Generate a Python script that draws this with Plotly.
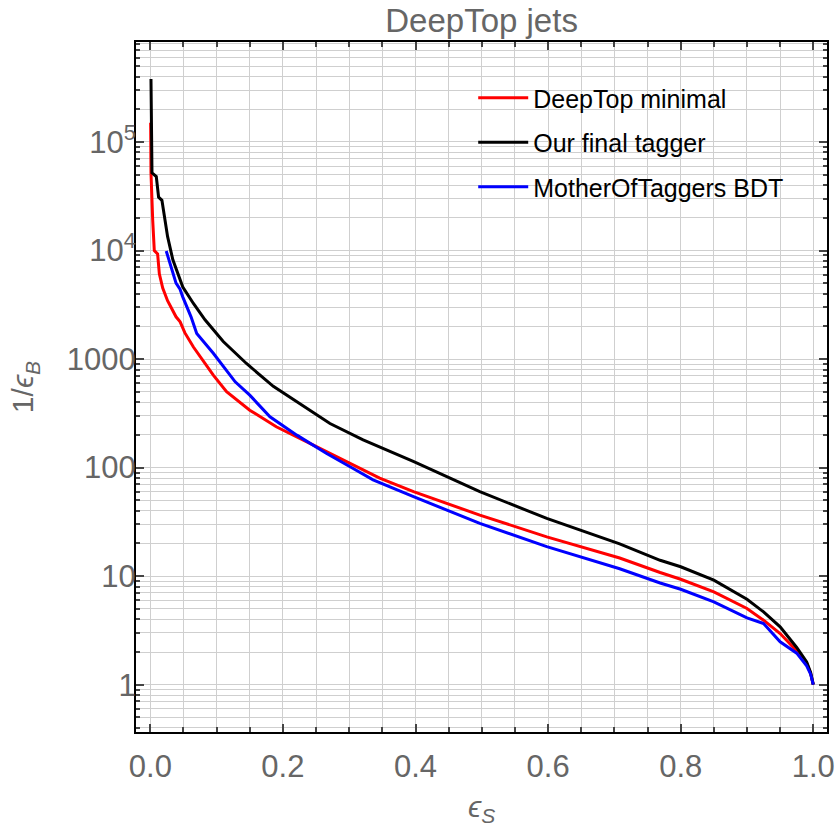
import plotly.graph_objects as go

# --- data ---
red_name = "DeepTop minimal"
red_x = [0.0005, 0.001, 0.0036, 0.006, 0.011, 0.0136, 0.0187, 0.026, 0.0388, 0.045, 0.052, 0.065,
         0.095, 0.115, 0.15, 0.19, 0.246, 0.271, 0.346, 0.397, 0.497, 0.598, 0.708,
         0.769, 0.8, 0.85, 0.9, 0.925, 0.95, 0.975, 0.99, 0.996, 1.0]
red_y = [150000, 52000, 19000, 10000, 9300, 6100, 4500, 3450, 2450, 2200, 1750, 1290,
         710, 500, 338, 238, 161, 135, 80, 60, 36.5, 23, 14.7,
         10.8, 9.36, 7.16, 5.03, 3.93, 2.96, 2.05, 1.58, 1.27, 1.0]

black_name = "Our final tagger"
black_x = [0.001, 0.0025, 0.009, 0.0125, 0.0175, 0.026, 0.034, 0.049, 0.065, 0.0825, 0.11, 0.145,
           0.1855, 0.22, 0.271, 0.321, 0.3465, 0.3966, 0.497, 0.598, 0.708,
           0.769, 0.8, 0.85, 0.9, 0.925, 0.95, 0.975, 0.99, 0.996, 1.0]
black_y = [380000, 52000, 48000, 31000, 29000, 13500, 8200, 4600, 3250, 2300, 1450, 910,
           560, 405, 255, 180, 155, 114, 60, 34, 19.8,
           14.0, 12.2, 9.17, 6.12, 4.68, 3.41, 2.2, 1.62, 1.3, 1.0]

blue_name = "MotherOfTaggers BDT"
blue_x = [0.024, 0.0312, 0.0388, 0.0448, 0.0489, 0.0614, 0.07, 0.095, 0.128, 0.15, 0.1805,
          0.221, 0.266, 0.306, 0.336, 0.397, 0.497, 0.598, 0.708,
          0.769, 0.8, 0.85, 0.9, 0.925, 0.95, 0.975, 0.99, 0.996, 1.0]
blue_y = [9900, 7100, 5000, 4400, 3740, 2450, 1720, 1130, 617, 465, 294,
          199, 135, 98, 77, 54, 30.6, 18.7, 11.7,
          8.65, 7.57, 5.78, 4.12, 3.66, 2.48, 1.95, 1.49, 1.25, 1.0]

y_tickvals = [1, 10, 100, 1000, 10000, 100000]
y_ticktext = ["1", "10", "100", "1000", "10<sup>4</sup>", "10<sup>5</sup>"]
y_minor_vals = [m * 10 ** k for k in range(-1, 6) for m in range(2, 10)]
x_tickvals = [0.0, 0.2, 0.4, 0.6, 0.8, 1.0]
x_ticktext = ["0.0", "0.2", "0.4", "0.6", "0.8", "1.0"]
x_title = "<i>ϵ<sub>S</sub></i>"
y_title = "1/<i>ϵ<sub>B</sub></i>"

FONT = "Arial, Liberation Sans, sans-serif"
GRAY = "#666666"
GRID = "#cfcfcf"

fig = go.Figure()
for name, xs, ys, col, grp in [(red_name, red_x, red_y, "#ff0000", "a"),
                               (black_name, black_x, black_y, "#000000", "b"),
                               (blue_name, blue_x, blue_y, "#0000ff", "c")]:
    fig.add_trace(go.Scatter(x=xs, y=ys, mode="lines", name=name, legendgroup=grp,
                             line=dict(color=col, width=3)))

fig.update_layout(
    width=839, height=824,
    margin=dict(l=136, r=12, t=42, b=92),
    paper_bgcolor="white", plot_bgcolor="white",
    font=dict(family=FONT, color=GRAY, size=30),
    title=dict(text="DeepTop jets", x=0.574, xanchor="center", y=0.975, yanchor="middle",
               font=dict(size=33, color=GRAY, family=FONT)),
    showlegend=True,
    legend=dict(x=0.488, y=0.952, xanchor="left", yanchor="top", itemwidth=50,
                font=dict(size=25, color="black", family=FONT),
                bgcolor="rgba(0,0,0,0)", traceorder="grouped", tracegroupgap=9),
    xaxis=dict(range=[-0.0216, 1.0207], tickvals=x_tickvals, ticktext=x_ticktext,
               automargin=False,
               ticks="inside", ticklen=8, tickwidth=1.5, tickcolor="#444444",
               showline=True, linecolor="black", linewidth=2, mirror="allticks",
               showgrid=True, gridcolor=GRID, gridwidth=1, zeroline=False,
               tickfont=dict(size=31, color=GRAY), ticklabelstandoff=6,
               minor=dict(dtick=0.05, tick0=0, ticks="inside", ticklen=5, tickcolor="#444444",
                          showgrid=True, gridcolor=GRID, gridwidth=1)),
    yaxis=dict(type="log", range=[-0.436, 5.921], tickvals=y_tickvals, ticktext=y_ticktext,
               automargin=False,
               ticks="inside", ticklen=8, tickwidth=1.5, tickcolor="#444444",
               showline=True, linecolor="black", linewidth=2, mirror="allticks",
               showgrid=True, gridcolor=GRID, gridwidth=1, zeroline=False,
               tickfont=dict(size=31, color=GRAY), ticklabelstandoff=-8,
               minor=dict(tickvals=y_minor_vals, ticks="inside", ticklen=4, tickcolor="#444444",
                          showgrid=True, gridcolor=GRID, gridwidth=1),
               title=dict(text=y_title, font=dict(size=30, color=GRAY), standoff=24)),
    annotations=[dict(text=x_title, xref="paper", yref="paper", x=0.5007, y=-0.111,
                      xanchor="center", yanchor="middle", showarrow=False,
                      font=dict(size=30, color=GRAY, family=FONT))],
)

fig.write_html("out.html")
